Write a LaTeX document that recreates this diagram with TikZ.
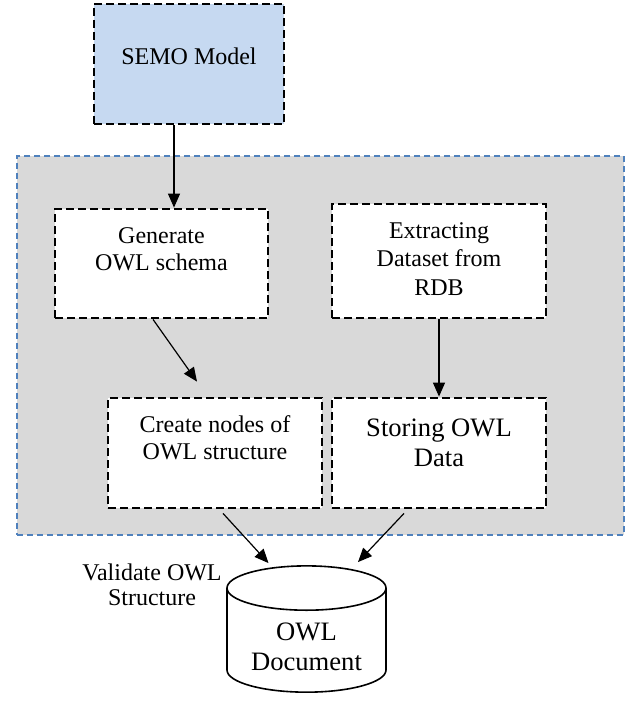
\documentclass[tikz,border=0pt]{standalone}
\usepackage{fontspec}
\setmainfont{Liberation Serif}
\usetikzlibrary{arrows.meta,shapes.geometric}
\definecolor{semoblue}{RGB}{198,217,241}
\definecolor{panelgray}{RGB}{217,217,217}
\definecolor{panelline}{RGB}{79,129,189}
\tikzset{
  stepbox/.style={draw,line width=1.4pt,dash pattern=on 4pt off 2pt,fill=white,
    inner sep=0pt,align=center,minimum width=107pt,font=\fontsize{12}{13.5}\selectfont},
  arr/.style={line width=0.6pt,-{Triangle[length=7pt,width=6pt]}}
}
\begin{document}
\begin{tikzpicture}
  [x=0.5pt,y=-0.5pt]
\useasboundingbox (0,0) rectangle (643,706);
\node (panel)[draw=panelline,fill=panelgray,line width=0.9pt,dash pattern=on 3pt off 2pt,
  minimum width=303.5pt,minimum height=189.5pt,inner sep=0pt] at (320.5,345.5) {};

\node (semo)[stepbox,fill=semoblue,minimum width=95pt,text height=30.5pt,text depth=29.5pt] at (189,64) {SEMO Model};
  \node (gen)[stepbox,minimum width=106.5pt,text height=30.5pt,text depth=24pt] at (161.5,263.5) {Generate\\OWL schema};
  \node (extract)[stepbox,font=\fontsize{12}{14.25}\selectfont,text height=45.5pt,text depth=11.5pt] at (439,261) {Extracting\\Dataset from\\RDB};
  \node (create)[stepbox,text height=30.5pt,text depth=24.5pt] at (215,453) {Create nodes of\\OWL structure};
  \node (store)[stepbox,font=\fontsize{13.3}{15}\selectfont,text height=34pt,text depth=21pt] at (439,453) {Storing OWL\\Data};

\node (doc)[cylinder,draw,shape border rotate=90,aspect=0.4,minimum width=79.5pt,minimum height=59.5pt,
  inner sep=0pt,align=center,line width=0.8pt,text height=29.5pt,text depth=0pt,
  font=\fontsize{13.3}{15}\selectfont] at (306.5,640.5) {OWL\\Document};
  \node (valid)[align=center,font=\fontsize{12}{12.5}\selectfont] at (152,585) {Validate OWL\\Structure};

 \draw[arr] ([xshift=-7.5pt]semo.south) -- ([xshift=-7.5pt]semo.south |- gen.north);
  \draw[arr] ([xshift=-4.25pt]gen.south) -- ([xshift=-9pt,yshift=7.5pt]create.north);
  \draw[arr] (extract) -- (store);
  \draw[arr] ([xshift=4pt,yshift=-2pt]create.south) -- ([xshift=-19pt,yshift=1pt]doc.north);
  \draw[arr] ([xshift=-17.5pt,yshift=-2pt]store.south) -- ([xshift=25.75pt,yshift=1.5pt]doc.north);
\end{tikzpicture}
\end{document}
